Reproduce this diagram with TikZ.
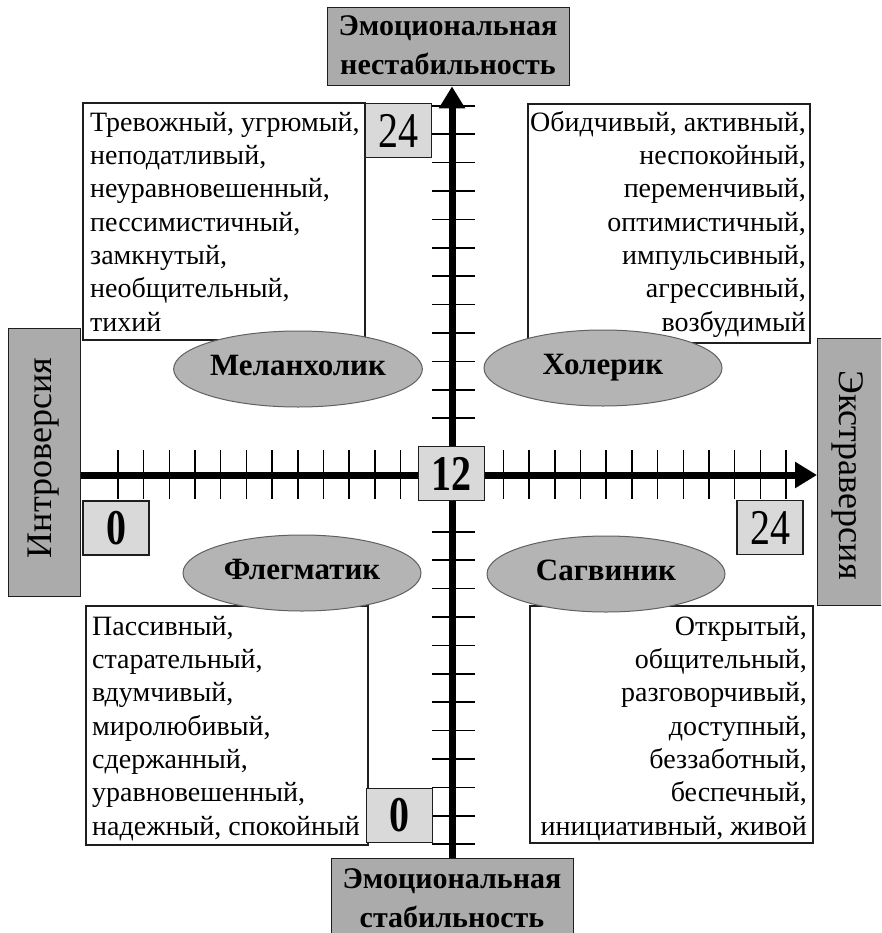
\documentclass[tikz,border=0pt]{standalone}
\usepackage{fontspec}
\usepackage{graphicx}
\setmainfont{Liberation Serif}
\usetikzlibrary{arrows.meta,shapes.geometric}
\definecolor{labgray}{HTML}{ABABAB}
\definecolor{numgray}{HTML}{D9D9D9}
\definecolor{ellgray}{HTML}{B4B4B4}
\definecolor{edgec}{HTML}{1E1E1E}
\newcommand{\fstrut}{\rule{0pt}{0.8em}}
\newcommand{\dig}[1]{\scalebox{0.8}[1]{#1}}
\tikzset{
  lab/.style={draw=edgec, line width=1.4pt, fill=labgray, inner sep=0pt, anchor=north west},
  num/.style={draw=edgec, line width=1.8pt, fill=numgray, inner sep=0pt, anchor=center, minimum width=66pt, minimum height=54pt, font=\fontsize{50}{50}\selectfont},
  txtbox/.style={draw=edgec, line width=1.8pt, fill=white, inner sep=0pt, anchor=north west},
  ell/.style={ellipse, draw=edgec!70, line width=1pt, fill=ellgray, minimum width=238pt, minimum height=76pt, inner sep=0pt, text height=20pt, text depth=8pt, font=\bfseries\fontsize{31}{31}\selectfont},
  body/.style={inner sep=0pt, font=\fontsize{28}{33.3}\selectfont},
  labtxt/.style={inner sep=0pt, anchor=north, align=center, font=\bfseries\fontsize{30}{39}\selectfont},
  sidetxt/.style={inner sep=0pt, font=\fontsize{36}{36}\selectfont},
  axisline/.style={line width=7pt, -{Triangle[length=22pt,width=25pt]}},
  tickline/.style={line width=1.5pt},
}
\begin{document}
\begin{tikzpicture}[x=1pt,y=-1pt]
\useasboundingbox (0,0) rectangle (881,933);
\clip (0,0) rectangle (881,933);
\fill[white] (0,0) rectangle (881,933);

% text boxes
\node[txtbox, minimum width=282pt, minimum height=237pt] (tlbox) at (82,102) {};
\node[txtbox, minimum width=282pt, minimum height=239pt] (trbox) at (527,103) {};
\node[txtbox, minimum width=282pt, minimum height=239pt] (blbox) at (85,605) {};
\node[txtbox, minimum width=283pt, minimum height=237pt] (brbox) at (529,605) {};

\node[body, anchor=north west, align=left] (tltxt) at (90,108.6) {\fstrut Тревожный, угрюмый,\\неподатливый,\\неуравновешенный,\\пессимистичный,\\замкнутый,\\необщительный,\\тихий};
\node[body, anchor=north east, align=right] (trtxt) at (806,108.6) {\fstrut Обидчивый, активный,\\неспокойный,\\переменчивый,\\оптимистичный,\\импульсивный,\\агрессивный,\\возбудимый};
\node[body, anchor=north west, align=left] (bltxt) at (92,612.6) {\fstrut Пассивный,\\старательный,\\вдумчивый,\\миролюбивый,\\сдержанный,\\уравновешенный,\\надежный, спокойный};
\node[body, anchor=north east, align=right] (brtxt) at (807,612.6) {\fstrut Открытый,\\общительный,\\разговорчивый,\\доступный,\\беззаботный,\\беспечный,\\инициативный, живой};

% axis labels
\node[lab, minimum width=242pt, minimum height=78pt] (topl) at (327,7) {};
\node[labtxt] (topt) at (448,11) {\fstrut Эмоциональная\\нестабильность};
\node[lab, minimum width=242pt, minimum height=90pt] (botl) at (331,858) {};
\node[labtxt] (bott) at (452,864) {\fstrut Эмоциональная\\стабильность};
\node[lab, minimum width=72pt, minimum height=268pt] (intro) at (8,328) {};
\node[sidetxt, rotate=90] (introt) at (44,458) {Интроверсия};
\node[lab, minimum width=72pt, minimum height=267pt] (extra) at (817,338) {};
\node[sidetxt, rotate=-90] (extrat) at (848,475) {Экстраверсия};

% centre and ticks
\coordinate (c) at (452,475);
\foreach \n in {2,...,13} {
  \draw[tickline] ([xshift=\n*25.7pt,yshift=-24pt]c) -- ([xshift=\n*25.7pt,yshift=25pt]c);
  \draw[tickline] ([xshift=-\n*25.7pt,yshift=-24pt]c) -- ([xshift=-\n*25.7pt,yshift=25pt]c);
  \draw[tickline] ([xshift=-20pt,yshift=\n*28.4pt]c) -- ([xshift=23pt,yshift=\n*28.4pt]c);
  \draw[tickline] ([xshift=-20pt,yshift=-\n*28.4pt]c) -- ([xshift=23pt,yshift=-\n*28.4pt]c);
}

% axes
\draw[axisline] (intro.east |- c) -- (extra.west |- c);
\draw[axisline] (botl.north -| c) -- (topl.south -| c);

% number boxes
\node[num] (n24t) at (398.5,130.5) {\dig{24}};
\node[num] (n0l) at (116,528) {\dig{\bfseries 0}};
\node[num] (n24r) at (770,527.5) {\dig{24}};
\node[num] (n0b) at (399.5,815.5) {\dig{\bfseries 0}};
\node[num] (n12) at (451.5,473.5) {\dig{\bfseries 12}};

% temperaments
\node[ell] (mel) at (298,369) {Меланхолик};
\node[ell] (chol) at (603,368) {Холерик};
\node[ell] (phl) at (302,573) {Флегматик};
\node[ell] (san) at (606,574) {Сагвиник};
\end{tikzpicture}
\end{document}
